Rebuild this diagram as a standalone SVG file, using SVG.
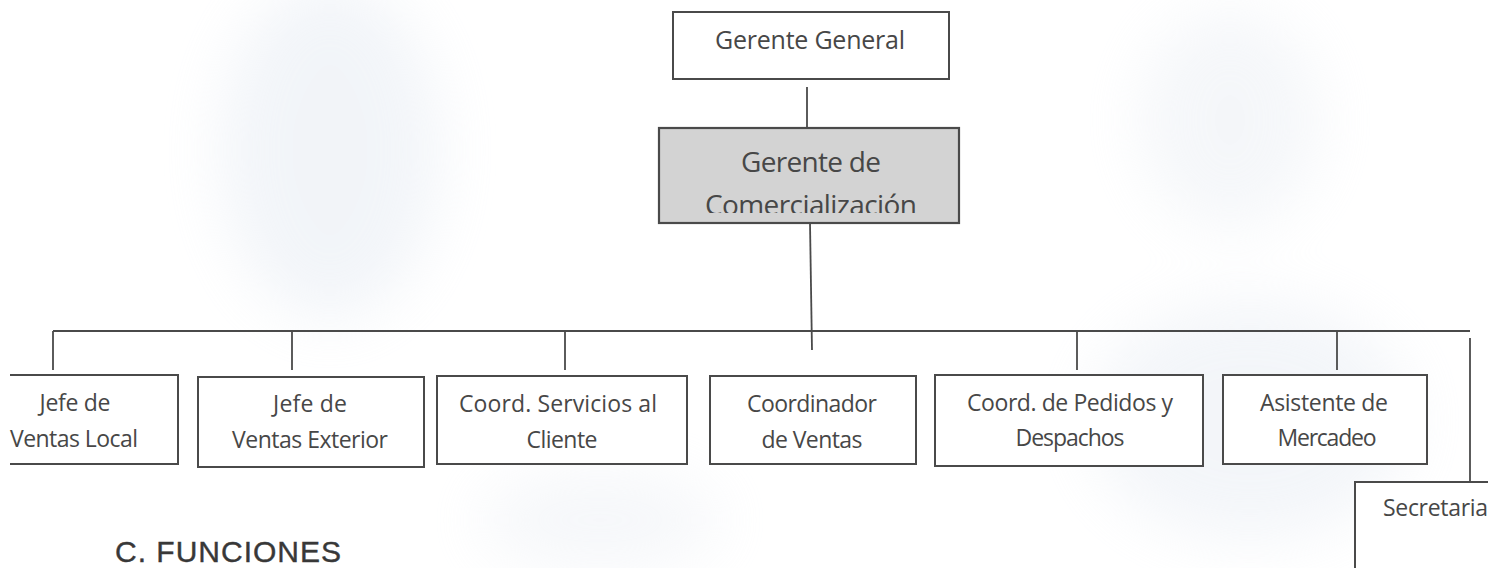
<svg xmlns="http://www.w3.org/2000/svg" width="1488" height="568" viewBox="0 0 1488 568">
<defs>
<style>
.box{fill:#ffffff;stroke:#4a4a4a;stroke-width:2}
.boxg{fill:#d3d3d3;stroke:#4a4a4a;stroke-width:2.2}
.ln{fill:none;stroke:#4a4a4a;stroke-width:1.8}
.t{font-family:"Open Sans","Liberation Sans",sans-serif;fill:#474747;text-anchor:middle}
.s{font-size:23px}
.m{font-size:25px}
.l{font-size:28px}
.h{font-family:"Liberation Sans",Arial,sans-serif;font-size:30px;fill:#383838;stroke:#383838;stroke-width:0.4}
</style>
<clipPath id="gcClip"><rect x="659" y="128" width="300" height="85"/></clipPath>
<filter id="blur" x="-50%" y="-50%" width="200%" height="200%"><feGaussianBlur stdDeviation="30"/></filter>
</defs>
<rect x="0" y="0" width="1488" height="568" fill="#ffffff"/>
<g id="background" filter="url(#blur)" opacity="0.4">
<ellipse cx="330" cy="150" rx="110" ry="170" fill="#dfe6f0"/>
<ellipse cx="1250" cy="420" rx="160" ry="120" fill="#e2e8f1"/>
<ellipse cx="1230" cy="120" rx="90" ry="110" fill="#e6ebf2"/>
<ellipse cx="600" cy="520" rx="120" ry="50" fill="#e8ecf3"/>
</g>
<g id="connectors">
<line class="ln" x1="807" y1="87" x2="807" y2="128"/>
<line class="ln" x1="810" y1="223" x2="812" y2="350"/>
<line class="ln" x1="53" y1="331" x2="1470" y2="331"/>
<line class="ln" x1="53" y1="331" x2="53" y2="370"/>
<line class="ln" x1="292" y1="331" x2="292" y2="370"/>
<line class="ln" x1="565" y1="331" x2="565" y2="370"/>
<line class="ln" x1="1077" y1="331" x2="1077" y2="370"/>
<line class="ln" x1="1337" y1="331" x2="1337" y2="370"/>
<line class="ln" x1="1470" y1="338" x2="1470" y2="482"/>
</g>
<g id="gerente-general">
<rect class="box" x="673" y="12" width="276" height="67"/>
<text class="t m" x="810" y="49" textLength="190">Gerente General</text>
</g>
<g id="gerente-comercializacion">
<rect class="boxg" x="659" y="128" width="300" height="95"/>
<text class="t l" x="811" y="172" textLength="140">Gerente de</text>
<text class="t l" x="811" y="215" textLength="212" clip-path="url(#gcClip)">Comercialización</text>
</g>
<g id="jefe-ventas-local">
<path class="box" d="M10,375 H178 V464 H10"/>
<text class="t s" x="75" y="411" textLength="71">Jefe de</text>
<text class="t s" x="74" y="447" textLength="128">Ventas Local</text>
</g>
<g id="jefe-ventas-exterior">
<rect class="box" x="198" y="377" width="226" height="90"/>
<text class="t s" x="310" y="412" textLength="74">Jefe de</text>
<text class="t s" x="310" y="448" textLength="156">Ventas Exterior</text>
</g>
<g id="coord-servicios">
<rect class="box" x="437" y="376" width="250" height="88"/>
<text class="t s" x="558" y="412" textLength="198">Coord. Servicios al</text>
<text class="t s" x="562" y="448" textLength="71">Cliente</text>
</g>
<g id="coordinador-ventas">
<rect class="box" x="710" y="376" width="206" height="88"/>
<text class="t s" x="812" y="412" textLength="130">Coordinador</text>
<text class="t s" x="812" y="448" textLength="101">de Ventas</text>
</g>
<g id="coord-pedidos">
<rect class="box" x="935" y="375" width="268" height="91"/>
<text class="t s" x="1070" y="411" textLength="206">Coord. de Pedidos y</text>
<text class="t s" x="1070" y="446" textLength="109">Despachos</text>
</g>
<g id="asistente-mercadeo">
<rect class="box" x="1223" y="375" width="204" height="89"/>
<text class="t s" x="1324" y="411" textLength="128">Asistente de</text>
<text class="t s" x="1327" y="446" textLength="99">Mercadeo</text>
</g>
<g id="secretaria">
<rect class="box" x="1355" y="482" width="220" height="140"/>
<text class="t s" x="1383" y="516" style="text-anchor:start" textLength="105">Secretaria</text>
</g>
<text class="h" x="115" y="562" textLength="226">C. FUNCIONES</text>
</svg>
